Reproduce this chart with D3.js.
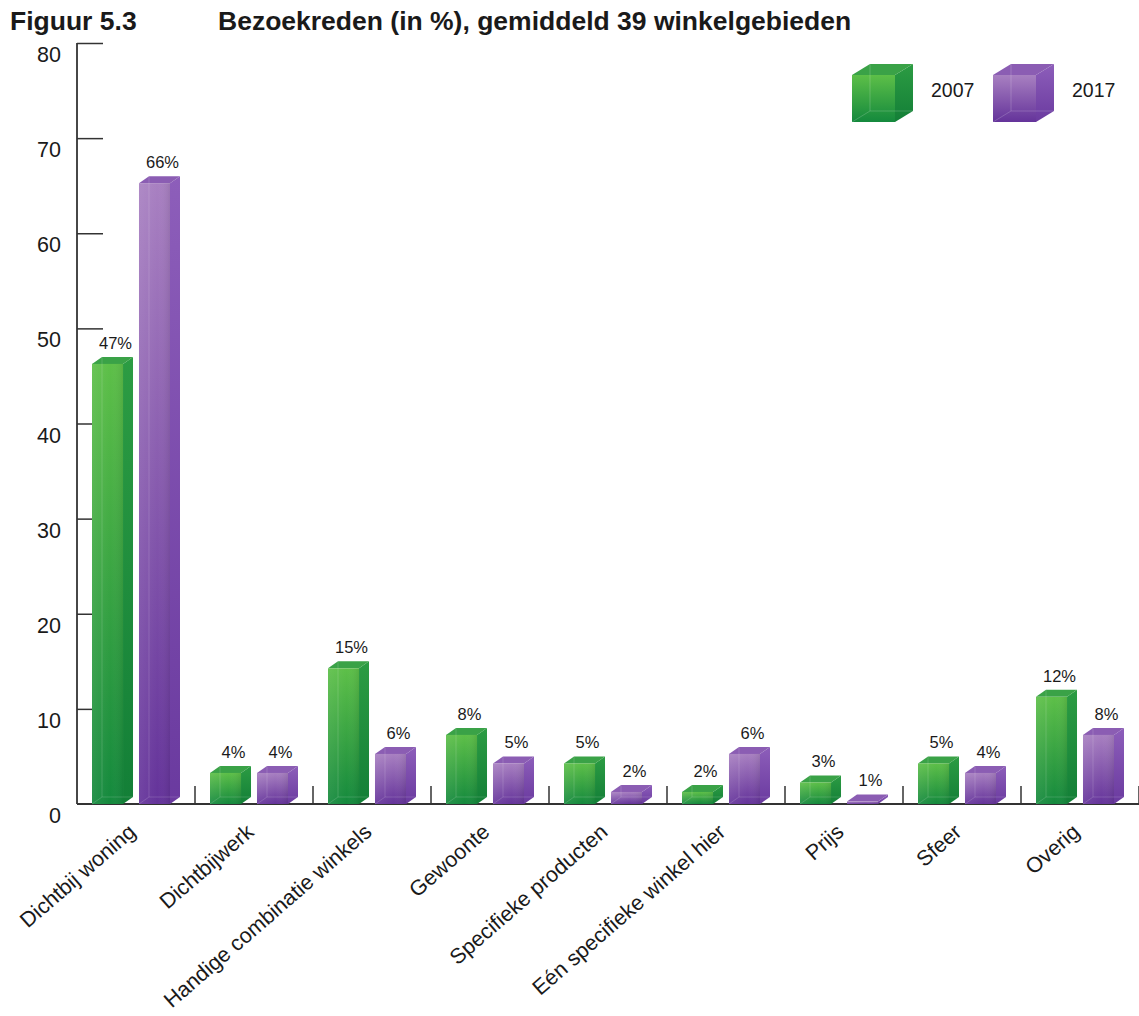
<!DOCTYPE html>
<html>
<head>
<meta charset="utf-8">
<script src="https://cdn.jsdelivr.net/npm/d3@7"></script>
<style>
  html, body { margin: 0; padding: 0; background: #fff; }
  svg text { font-family: Arial, "Liberation Sans", sans-serif; fill: #1a1a1a; }
</style>
</head>
<body>
<div id="chart"></div>
<script>
// Bezoekreden (in %), gemiddeld 39 winkelgebieden
const categories = [
  'Dichtbij woning', 'Dichtbijwerk', 'Handige combinatie winkels', 'Gewoonte',
  'Specifieke producten', 'Eén specifieke winkel hier', 'Prijs', 'Sfeer', 'Overig'
];
const years = ['2007', '2017'];
const values2007 = [47, 4, 15, 8, 5, 2, 3, 5, 12];
const values2017 = [66, 4, 6, 5, 2, 6, 1, 4, 8];
const yTicks = [0, 10, 20, 30, 40, 50, 60, 70, 80];

const W = 1139, H = 1016;
const DX = 10, DY = 7;   // 3d depth of the bars

const PAL = {
  '2007': { top: '#5dbf48', bottom: '#14893d', side1: '#2c9c43', side2: '#137f37', lid: '#3aa247' },
  '2017': { top: '#a880c1', bottom: '#64339a', side1: '#8d5eba', side2: '#6a3a9f', lid: '#8b5db3' }
};

const svg = d3.select('#chart').append('svg')
  .attr('width', W).attr('height', H);

const defs = svg.append('defs');
years.forEach(yr => {
  const p = PAL[yr];
  const gf = defs.append('linearGradient').attr('id', 'front' + yr)
    .attr('x1', 0).attr('y1', 0).attr('x2', 0).attr('y2', 1);
  gf.append('stop').attr('offset', '0%').attr('stop-color', p.top);
  gf.append('stop').attr('offset', '100%').attr('stop-color', p.bottom);
  const gs = defs.append('linearGradient').attr('id', 'side' + yr)
    .attr('x1', 0).attr('y1', 0).attr('x2', 0).attr('y2', 1);
  gs.append('stop').attr('offset', '0%').attr('stop-color', p.side1);
  gs.append('stop').attr('offset', '100%').attr('stop-color', p.side2);
  // soft horizontal sheen across the front face
  const gh = defs.append('linearGradient').attr('id', 'sheen' + yr)
    .attr('x1', 0).attr('y1', 0).attr('x2', 1).attr('y2', 0);
  gh.append('stop').attr('offset', '0%').attr('stop-color', '#fff').attr('stop-opacity', 0.08);
  gh.append('stop').attr('offset', '60%').attr('stop-color', '#fff').attr('stop-opacity', 0.0);
  gh.append('stop').attr('offset', '100%').attr('stop-color', '#000').attr('stop-opacity', 0.08);
});

// scales
const x = d3.scaleBand().domain(categories).range([77, 1139]);
const xSub = d3.scaleBand().domain(years).range([15, 93]).paddingInner(0.34);
const y = d3.scaleLinear().domain([0, 80]).range([804, 43]);

// title
svg.append('text').attr('x', 10).attr('y', 30)
  .attr('font-size', 26.5).attr('font-weight', 'bold').text('Figuur 5.3');
svg.append('text').attr('x', 218).attr('y', 30)
  .attr('font-size', 26.5).attr('font-weight', 'bold')
  .text('Bezoekreden (in %), gemiddeld 39 winkelgebieden');

// y axis: ticks pointing inward, labels sitting a bit below each tick
const yAxis = svg.append('g').attr('transform', 'translate(77,0)')
  .call(d3.axisRight(y).tickValues(yTicks.filter(d => d > 0)).tickSize(26).tickFormat(''));
yAxis.select('.domain').remove();
yAxis.selectAll('.tick line').attr('stroke', '#333').attr('stroke-width', 1.5);

svg.append('line')
  .attr('x1', 77).attr('x2', 77).attr('y1', y(80)).attr('y2', y(0))
  .attr('stroke', '#333').attr('stroke-width', 1.8);

svg.append('g').selectAll('text').data(yTicks).join('text')
  .attr('x', 61).attr('y', d => y(d) + 19)
  .attr('text-anchor', 'end').attr('font-size', 21.5)
  .text(d => d);

// x axis line and category separators
svg.append('line')
  .attr('x1', 77).attr('x2', 1139).attr('y1', y(0)).attr('y2', y(0))
  .attr('stroke', '#333').attr('stroke-width', 1.8);

svg.append('g').selectAll('line').data(categories)
  .join('line')
  .attr('x1', d => x(d) + x.step())
  .attr('x2', d => x(d) + x.step())
  .attr('y1', y(0)).attr('y2', y(0) - 18)
  .attr('stroke', '#333').attr('stroke-width', 1.5);

// bars
const rows = [];
categories.forEach((c, i) => {
  rows.push({ cat: c, yr: '2007', v: values2007[i] });
  rows.push({ cat: c, yr: '2017', v: values2017[i] });
});

const bw = xSub.bandwidth();
const bars = svg.append('g').selectAll('g').data(rows).join('g');

bars.each(function (d) {
  const g = d3.select(this);
  const x0 = x(d.cat) + xSub(d.yr);
  const yb = y(d.v);          // back top
  const yf = yb + DY;         // front top
  const y0 = y(0);
  const p = PAL[d.yr];

  // side face
  g.append('path')
    .attr('d', `M${x0 + bw},${yf}L${x0 + bw + DX},${yb}L${x0 + bw + DX},${y0 - DY}L${x0 + bw},${y0}Z`)
    .attr('fill', `url(#side${d.yr})`);
  // top face
  g.append('path')
    .attr('d', `M${x0},${yf}L${x0 + DX},${yb}L${x0 + bw + DX},${yb}L${x0 + bw},${yf}Z`)
    .attr('fill', p.lid);
  // front face
  g.append('rect')
    .attr('x', x0).attr('y', yf).attr('width', bw).attr('height', Math.max(0, y0 - yf))
    .attr('fill', `url(#front${d.yr})`);
  g.append('rect')
    .attr('x', x0).attr('y', yf).attr('width', bw).attr('height', Math.max(0, y0 - yf))
    .attr('fill', `url(#sheen${d.yr})`);
  // glass edges seen through the front
  if (y0 - yf > 8) {
    g.append('path')
      .attr('d', `M${x0 + DX},${yb}L${x0 + DX},${y0 - DY}L${x0 + bw + DX},${y0 - DY}M${x0},${y0}L${x0 + DX},${y0 - DY}`)
      .attr('fill', 'none').attr('stroke', '#fff').attr('stroke-opacity', 0.15).attr('stroke-width', 1);
  }

  // value label
  g.append('text')
    .attr('x', x0 + (bw + DX) / 2 + 3)
    .attr('y', yb - 8)
    .attr('text-anchor', 'middle').attr('font-size', 16.5)
    .text(d.v + '%');
});

// category labels
svg.append('g').selectAll('text').data(categories).join('text')
  .attr('transform', d => `translate(${x(d) + x.bandwidth() / 2 + 1},${834}) rotate(-41)`)
  .attr('text-anchor', 'end').attr('font-size', 21.5)
  .text(d => d);

// legend
const legend = svg.append('g');
const legX = [852, 993];
years.forEach((yr, i) => {
  const lx = legX[i], ly = 75, lw = 43, lh = 47, ldx = 18, ldy = 11;
  const p = PAL[yr];
  const lg = legend.append('g');
  lg.append('path')
    .attr('d', `M${lx + lw},${ly}L${lx + lw + ldx},${ly - ldy}L${lx + lw + ldx},${ly + lh - ldy}L${lx + lw},${ly + lh}Z`)
    .attr('fill', `url(#side${yr})`);
  lg.append('path')
    .attr('d', `M${lx},${ly}L${lx + ldx},${ly - ldy}L${lx + lw + ldx},${ly - ldy}L${lx + lw},${ly}Z`)
    .attr('fill', p.lid);
  lg.append('rect').attr('x', lx).attr('y', ly).attr('width', lw).attr('height', lh)
    .attr('fill', `url(#front${yr})`);
  lg.append('path')
    .attr('d', `M${lx + ldx},${ly - ldy}L${lx + ldx},${ly + lh - ldy}L${lx + lw + ldx},${ly + lh - ldy}M${lx},${ly + lh}L${lx + ldx},${ly + lh - ldy}`)
    .attr('fill', 'none').attr('stroke', '#fff').attr('stroke-opacity', 0.18);
  lg.append('text').attr('x', lx + 79).attr('y', ly + 22)
    .attr('font-size', 19.5).text(yr);
});
</script>
</body>
</html>
